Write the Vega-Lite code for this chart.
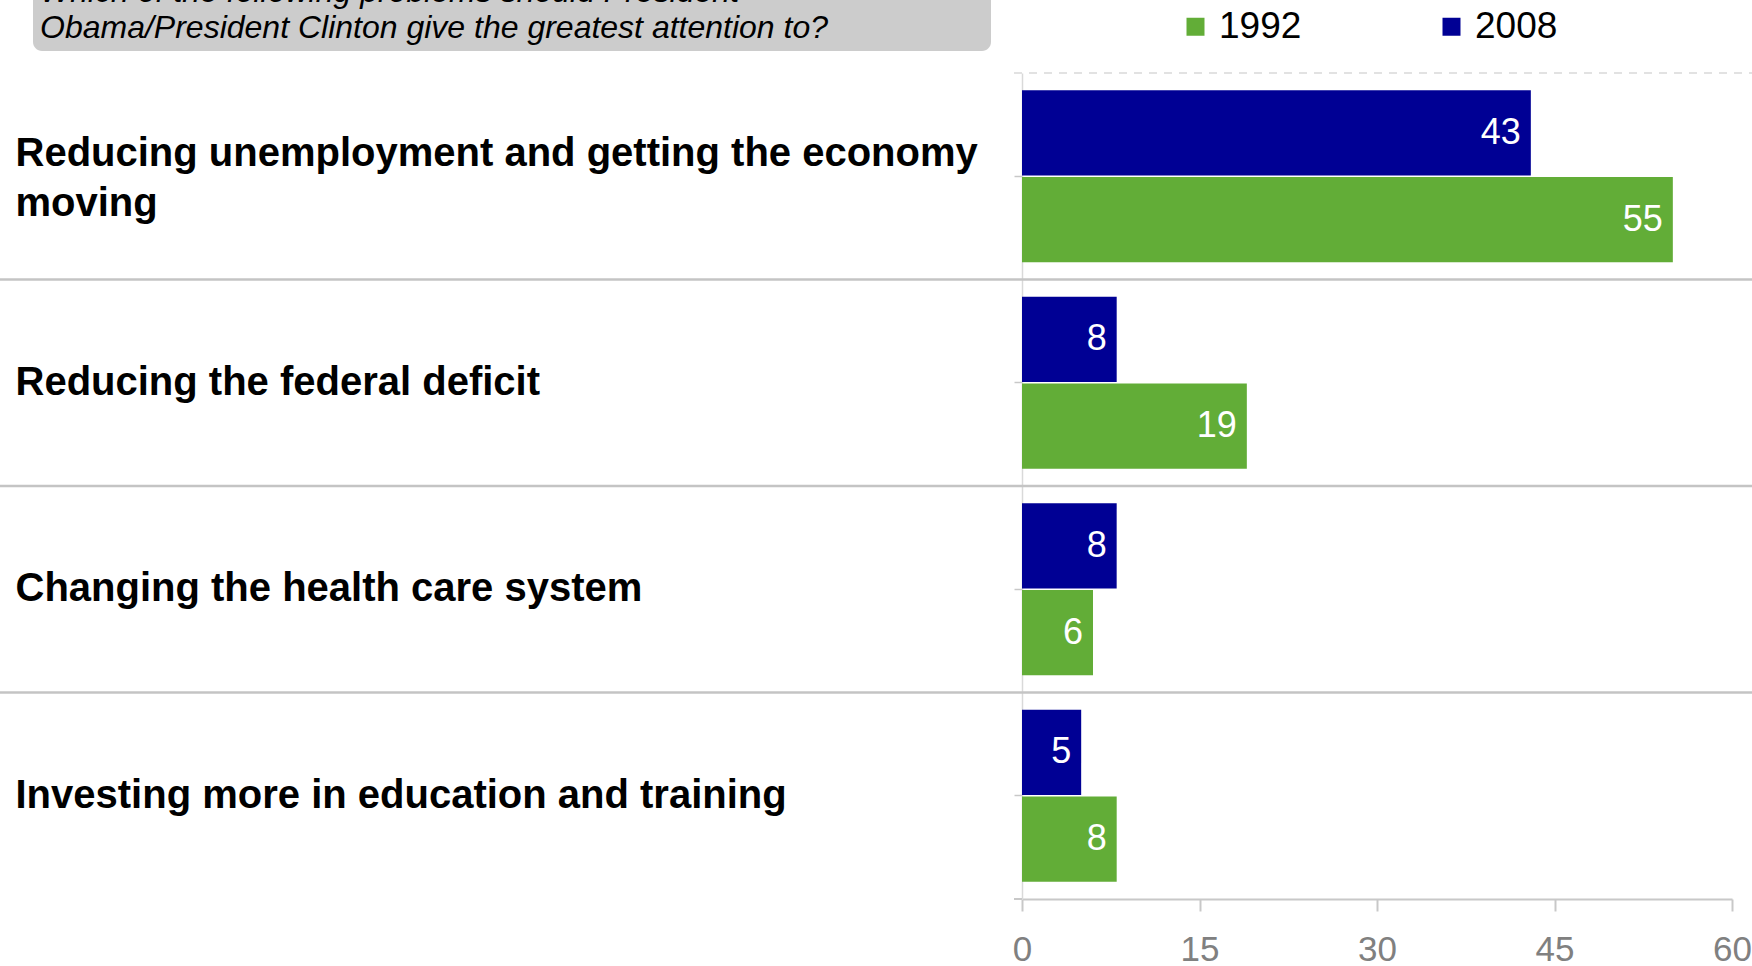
{
  "$schema": "https://vega.github.io/schema/vega-lite/v6.json",
  "autosize": {"type": "none"},
  "width": 1752,
  "height": 826,
  "padding": {"left": 0, "top": 73, "right": 0, "bottom": 67},
  "background": "#ffffff",
  "data": {
    "values": [
      {"cat": "Reducing unemployment and getting the economy moving", "year": "2008", "value": 43},
      {"cat": "Reducing unemployment and getting the economy moving", "year": "1992", "value": 55},
      {"cat": "Reducing the federal deficit", "year": "2008", "value": 8},
      {"cat": "Reducing the federal deficit", "year": "1992", "value": 19},
      {"cat": "Changing the health care system", "year": "2008", "value": 8},
      {"cat": "Changing the health care system", "year": "1992", "value": 6},
      {"cat": "Investing more in education and training", "year": "2008", "value": 5},
      {"cat": "Investing more in education and training", "year": "1992", "value": 8}
    ]
  },
  "layer": [
    {
      "mark": {"type": "bar"},
      "encoding": {
        "y": {
          "field": "cat",
          "type": "nominal",
          "sort": null,
          "scale": {
            "domain": [
              "Reducing unemployment and getting the economy moving",
              "Reducing the federal deficit",
              "Changing the health care system",
              "Investing more in education and training"
            ],
            "paddingInner": 0,
            "paddingOuter": 0
          },
          "axis": {
            "title": null,
            "orient": "left",
            "offset": -1022,
            "domainColor": "#d9d9d9",
            "domainWidth": 1.5,
            "tickColor": "#c8c8c8",
            "tickWidth": 1.5,
            "tickSize": 8,
            "labelAlign": "left",
            "labelBaseline": "middle",
            "labelPadding": 999,
            "labelOffset": {
              "condition": {"test": "datum.value == 'Reducing unemployment and getting the economy moving'", "value": -22},
              "value": 0
            },
            "labelFont": "Liberation Sans",
            "labelFontSize": 40,
            "labelFontWeight": "bold",
            "labelColor": "#000000",
            "labelLimit": 1000,
            "labelLineHeight": 50,
            "labelOverlap": false,
            "grid": false,
            "labelExpr": "datum.label == 'Reducing unemployment and getting the economy moving' ? ['Reducing unemployment and getting the economy', 'moving'] : datum.label"
          }
        },
        "yOffset": {
          "field": "year",
          "type": "nominal",
          "sort": ["2008", "1992"],
          "scale": {"paddingInner": 0.02, "paddingOuter": 0.2}
        },
        "x": {
          "field": "value",
          "type": "quantitative",
          "scale": {"domain": [0, 60], "range": [1022, 1732], "nice": false},
          "axis": {
            "title": null,
            "values": [0, 15, 30, 45, 60],
            "domainColor": "#c8c8c8",
            "domainWidth": 2,
            "tickColor": "#c8c8c8",
            "tickWidth": 2,
            "tickSize": 12,
            "labelFont": "Liberation Sans",
            "labelFontSize": 35,
            "labelColor": "#808080",
            "labelPadding": 21,
            "labelFlush": false,
            "grid": false
          }
        },
        "color": {
          "field": "year",
          "type": "nominal",
          "scale": {"domain": ["1992", "2008"], "range": ["#62ad37", "#000094"]},
          "legend": {
            "title": null,
            "orient": "none",
            "legendX": 1177,
            "legendY": -65,
            "direction": "horizontal",
            "symbolType": "square",
            "symbolSize": 324,
            "symbolStrokeWidth": 0,
            "labelFont": "Liberation Sans",
            "labelFontSize": 37,
            "labelColor": "#000000",
            "labelOffset": 5,
            "columnPadding": 131
          }
        },
        "opacity": {
          "datum": "q",
          "type": "ordinal",
          "scale": {"range": [1]},
          "legend": {
            "title": ["Which of the following problems should President", "Obama/President Clinton give the greatest attention to?"],
            "orient": "none",
            "legendX": 33,
            "legendY": -103,
            "fillColor": "#cccccc",
            "cornerRadius": 9,
            "padding": 7,
            "titleFont": "Liberation Sans",
            "titleFontSize": 32,
            "titleFontStyle": "italic",
            "titleFontWeight": "normal",
            "titleColor": "#000000",
            "titleLimit": 1200,
            "titleLineHeight": 36,
            "titlePadding": -3,
            "labelExpr": "''",
            "labelFontSize": 1,
            "labelOffset": 0,
            "symbolType": "M0,0H943",
            "symbolSize": 4,
            "symbolFillColor": "transparent",
            "symbolStrokeColor": "transparent",
            "symbolStrokeWidth": 0
          }
        }
      }
    },
    {
      "transform": [{"filter": "datum.year == '2008' && datum.cat != 'Reducing unemployment and getting the economy moving'"}],
      "mark": {"type": "rule", "color": "#c4c4c4", "strokeWidth": 2.5},
      "encoding": {
        "y": {"field": "cat", "type": "nominal", "bandPosition": 0, "title": null}
      }
    },
    {
      "transform": [{"filter": "datum.year == '2008' && datum.cat == 'Reducing unemployment and getting the economy moving'"}],
      "mark": {"type": "rule", "color": "#d9d9d9", "strokeWidth": 1.5, "strokeDash": [8, 7], "xOffset": -8, "x2Offset": 21},
      "encoding": {
        "y": {"field": "cat", "type": "nominal", "bandPosition": 0, "title": null},
        "x": {"datum": 0, "type": "quantitative"},
        "x2": {"datum": 60}
      }
    },
    {
      "transform": [{"filter": "datum.year == '2008' && datum.cat == 'Investing more in education and training'"}],
      "mark": {"type": "rule", "color": "#c8c8c8", "strokeWidth": 2, "xOffset": -8},
      "encoding": {
        "y": {"field": "cat", "type": "nominal", "bandPosition": 1, "title": null},
        "x": {"datum": 0, "type": "quantitative"},
        "x2": {"datum": 0}
      }
    },
    {
      "mark": {"type": "text", "align": "right", "baseline": "middle", "dx": -10, "color": "#ffffff", "font": "Liberation Sans", "fontSize": 36},
      "encoding": {
        "y": {"field": "cat", "type": "nominal", "title": null},
        "yOffset": {"field": "year", "type": "nominal", "sort": ["2008", "1992"]},
        "x": {"field": "value", "type": "quantitative"},
        "text": {"field": "value", "type": "quantitative"}
      }
    }
  ],
  "config": {
    "view": {"stroke": null}
  }
}
